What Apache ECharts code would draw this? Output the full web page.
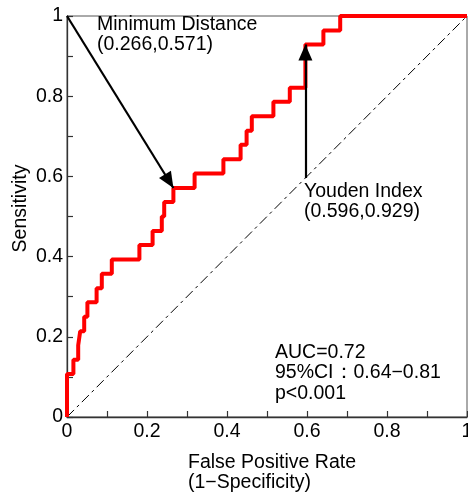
<!DOCTYPE html>
<html>
<head>
<meta charset="utf-8">
<script src="https://cdn.jsdelivr.net/npm/echarts@6/dist/echarts.min.js"></script>
<style>
html,body{margin:0;padding:0;background:#fff;}
#chart{width:468px;height:497px;}
</style>
</head>
<body>
<div id="chart"></div>
<script>
// ROC curve corner points (False Positive Rate, Sensitivity)
const fpr = [0, 0, 0.016, 0.028, 0.033, 0.043, 0.051, 0.074, 0.087, 0.112, 0.181, 0.214, 0.237, 0.243, 0.266, 0.319, 0.391, 0.434, 0.449, 0.462, 0.516, 0.557, 0.596, 0.641, 0.683, 1];
const tpr = [0, 0.107, 0.143, 0.179, 0.214, 0.25, 0.286, 0.321, 0.357, 0.393, 0.429, 0.464, 0.5, 0.536, 0.571, 0.607, 0.643, 0.679, 0.714, 0.75, 0.786, 0.821, 0.929, 0.964, 1, 1];
// reference (chance) line
const diagX = [0, 1];
const diagY = [0, 1];
// annotated points
const minDistPoint = [0.266, 0.571];
const minDistFrom = [0, 1];
const youdenPoint = [0.596, 0.929];
const youdenFrom = [0.596, 0.596];
// tick labels (shown every 0.2; ticks every 0.1)
const tickValues = [0, 0.2, 0.4, 0.6, 0.8, 1];
const tickLabels = ['0', '0.2', '0.4', '0.6', '0.8', '1'];
// texts
const xTitle = 'False Positive Rate\n(1\u2212Specificity)';
const yTitle = 'Sensitivity';
const minDistText = 'Minimum Distance\n(0.266,0.571)';
const youdenText = 'Youden Index\n(0.596,0.929)';
const statsText = 'AUC=0.72\n95%CI\uff1a0.64\u22120.81\np<0.001';

const FONT = "'Liberation Sans', Arial, sans-serif";
const FS = 19.5;

function fmt(v) {
  for (let i = 0; i < tickValues.length; i++) {
    if (Math.abs(v - tickValues[i]) < 1e-6) return tickLabels[i];
  }
  return '';
}

const rocData = fpr.map((x, i) => [x, tpr[i]]);
const diagData = diagX.map((x, i) => [x, diagY[i]]);

const axisCommon = {
  type: 'value', min: 0, max: 1, interval: 0.1,
  axisLine: { show: true, lineStyle: { color: '#333', width: 1.3 } },
  axisTick: { show: true, inside: true, length: 6, lineStyle: { color: '#333', width: 1.2 } },
  splitLine: { show: false },
  axisLabel: { formatter: fmt, color: '#000', fontSize: FS, fontFamily: FONT, margin: 5, showMinLabel: true, showMaxLabel: true, hideOverlap: false }
};

const arrowHead = { symbol: 'triangle', symbolSize: [14, 16], symbolOffset: [0, 8] };

const chart = echarts.init(document.getElementById('chart'), null, { renderer: 'canvas' });
chart.setOption({
  animation: false,
  backgroundColor: '#fff',
  grid: { left: 67, right: 1, top: 16, bottom: 80, containLabel: false, outerBoundsMode: 'none',
          show: true, borderColor: '#555', borderWidth: 1, backgroundColor: 'transparent' },
  xAxis: Object.assign({}, axisCommon),
  yAxis: Object.assign({}, axisCommon, { axisLabel: Object.assign({}, axisCommon.axisLabel, { margin: 4 }) }),
  series: [
    {
      type: 'line', data: diagData, symbol: 'none', silent: true, z: 2,
      lineStyle: { color: '#000', width: 1, type: [10, 4, 3, 4] }
    },
    {
      type: 'line', data: rocData, step: 'end', symbol: 'none', silent: true, z: 3,
      lineStyle: { color: '#ff0000', width: 4 }
    },
    {
      type: 'line', data: [], symbol: 'none', silent: true, z: 4,
      markLine: {
        silent: true, animation: false,
        symbol: ['none', 'triangle'],
        label: { show: false },
        emphasis: { disabled: true },
        lineStyle: { color: '#000', width: 2.2, type: 'solid' },
        data: [
          [Object.assign({ coord: minDistFrom }, { symbol: 'none' }), Object.assign({ coord: minDistPoint }, arrowHead)],
          [Object.assign({ coord: youdenFrom }, { symbol: 'none' }), Object.assign({ coord: youdenPoint }, arrowHead)]
        ]
      }
    }
  ],
  graphic: [
    { type: 'text', left: 97, top: 14, silent: true,
      style: { text: minDistText, fontSize: FS, fontFamily: FONT, fill: '#000', lineHeight: 20.5 } },
    { type: 'text', left: 304, top: 181, silent: true,
      style: { text: youdenText, fontSize: FS, fontFamily: FONT, fill: '#000', lineHeight: 20.5 } },
    { type: 'text', left: 275, top: 342, silent: true,
      style: { text: statsText, fontSize: FS, fontFamily: FONT, fill: '#000', lineHeight: 20.5 } },
    { type: 'text', left: 188, top: 453, silent: true,
      style: { text: xTitle, fontSize: FS, fontFamily: FONT, fill: '#000', lineHeight: 19.5 } },
    { type: 'text', x: 21, y: 208.5, rotation: Math.PI / 2, silent: true,
      style: { text: yTitle, fontSize: FS, fontFamily: FONT, fill: '#000', align: 'center', verticalAlign: 'middle' } }
  ]
});
</script>
</body>
</html>
